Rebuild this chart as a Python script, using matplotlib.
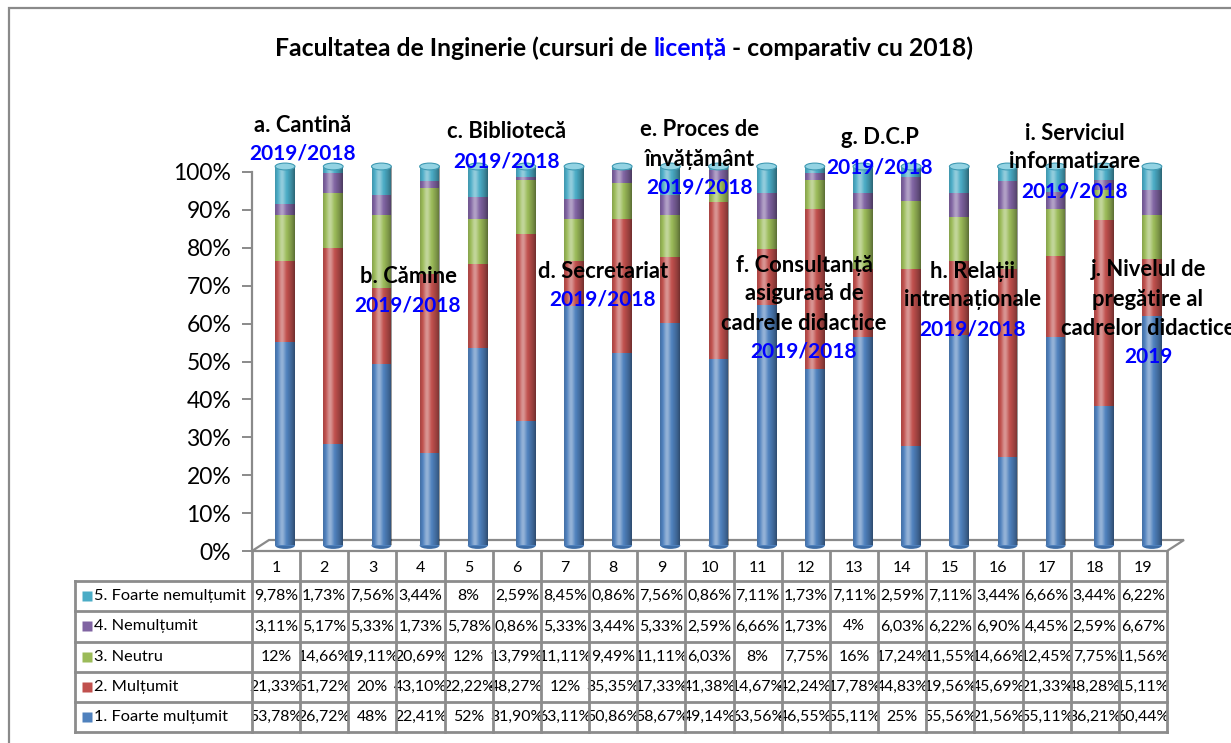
import matplotlib
matplotlib.use("Agg")
import matplotlib.pyplot as plt
import numpy as np
from matplotlib.transforms import offset_copy, IdentityTransform
from matplotlib.patches import Rectangle, Ellipse, Polygon

plt.rcParams['font.family'] = ['Lato', 'DejaVu Sans']

# ---------------- data ----------------
categories = [str(i) for i in range(1, 20)]
series_names = ["1. Foarte mulțumit", "2. Mulțumit", "3. Neutru",
                "4. Nemulțumit", "5. Foarte nemulțumit"]
foarte_multumit = [53.78, 26.72, 48, 22.41, 52, 31.90, 63.11, 50.86, 58.67, 49.14,
                   63.56, 46.55, 55.11, 25, 55.56, 21.56, 55.11, 36.21, 60.44]
multumit = [21.33, 51.72, 20, 43.10, 22.22, 48.27, 12, 35.35, 17.33, 41.38,
            14.67, 42.24, 17.78, 44.83, 19.56, 45.69, 21.33, 48.28, 15.11]
neutru = [12, 14.66, 19.11, 20.69, 12, 13.79, 11.11, 9.49, 11.11, 6.03,
          8, 7.75, 16, 17.24, 11.55, 14.66, 12.45, 7.75, 11.56]
nemultumit = [3.11, 5.17, 5.33, 1.73, 5.78, 0.86, 5.33, 3.44, 5.33, 2.59,
              6.66, 1.73, 4, 6.03, 6.22, 6.90, 4.45, 2.59, 6.67]
foarte_nemultumit = [9.78, 1.73, 7.56, 3.44, 8, 2.59, 8.45, 0.86, 7.56, 0.86,
                     7.11, 1.73, 7.11, 2.59, 7.11, 3.44, 6.66, 3.44, 6.22]
colors = ["#4F81BD", "#C0504D", "#9BBB59", "#8064A2", "#4BACC6"]
yticks = [0, 10, 20, 30, 40, 50, 60, 70, 80, 90, 100]

title_parts = [("Facultatea de Inginerie (cursuri de ", "black"),
               ("licență", "#0000FF"),
               (" - comparativ cu 2018)", "black")]

# annotation groups: (center_x_px, first_line_y_px, black lines, blue line)
annotations = [
    (303, 125, ["a. Cantină"], "2019/2018"),
    (408, 277, ["b. Cămine"], "2019/2018"),
    (507, 132, ["c. Bibliotecă"], "2019/2018"),
    (603, 271, ["d. Secretariat"], "2019/2018"),
    (700, 130, ["e. Proces de", "învățământ"], "2019/2018"),
    (804, 265, ["f. Consultanță", "asigurată de", "cadrele didactice"], "2019/2018"),
    (880, 138, ["g. D.C.P"], "2019/2018"),
    (973, 271, ["h. Relații", "intrenaționale"], "2019/2018"),
    (1075, 133, ["i. Serviciul", "informatizare"], "2019/2018"),
    (1148, 270, ["j. Nivelul de", "pregătire al", "cadrelor didactice"], "2019"),
]

# ---------------- figure ----------------
W, H = 1231, 743
fig = plt.figure(figsize=(W / 100, H / 100), dpi=100)
fig.patch.set_facecolor("white")

# outer frame
fig.add_artist(Rectangle((9, -20), 1400, H - 8 + 20, fill=False, ec="#8A8A8A",
                         lw=1.6, transform=IdentityTransform(), zorder=0))

ax = fig.add_axes([252 / W, 1 - 551 / H, 915 / W, 379 / H])
ax.set_xlim(0.5, 19.5)
ax.set_ylim(0, 100)

series = [foarte_multumit, multumit, neutru, nemultumit, foarte_nemultumit]
data = np.array(series, dtype=float)
data = data / data.sum(axis=0) * 100.0   # 100% stacked
x = np.arange(1, len(categories) + 1)
bw = 0.41

bar_tr = offset_copy(ax.transData, fig=fig, x=9, y=5.5, units="dots")

# floor (3D base)
fig.canvas.draw()
p0 = ax.transData.transform((0.5, 0))
p1 = ax.transData.transform((19.5, 0))
floor = Polygon([p0, p1, p1 + np.array([17, 11]), p0 + np.array([17, 11])],
                closed=True, fc="white", ec="#8A8A8A", lw=1.6,
                transform=IdentityTransform(), zorder=1)
fig.add_artist(floor)

# bottom caps of cylinders
cap_h = 1.8
for xi in x:
    ax.add_patch(Ellipse((xi, 0), bw, cap_h, fc="#3E6DA6", ec="none",
                         transform=bar_tr, zorder=2, clip_on=False))

bottom = np.zeros(len(x))
for vals, c in zip(data, colors):
    bars = ax.bar(x, vals, bottom=bottom, width=bw, color=c, transform=bar_tr,
                  zorder=3, linewidth=0)
    for b in bars:
        b.set_clip_on(False)
    bottom += vals

# cylinder shading overlay
u = np.linspace(0, 1, 80)
hl = 0.40 * np.exp(-((u - 0.35) / 0.17) ** 2)
dk = 0.42 * (np.abs(u - 0.38) / 0.62) ** 2.2
f = hl - dk
rgba = np.zeros((1, len(u), 4))
rgba[0, :, :3] = np.where(f > 0, 1.0, 0.0)[:, None]
rgba[0, :, 3] = np.abs(f)
for xi in x:
    im = ax.imshow(rgba, extent=[xi - bw / 2, xi + bw / 2, 0, 100], aspect="auto",
                   interpolation="bilinear", zorder=4)
    im.set_transform(bar_tr)
    im.set_clip_on(False)

# top caps
for xi in x:
    ax.add_patch(Ellipse((xi, 100), bw, cap_h, fc="#93D3E3", ec="#3F9AB3",
                         lw=0.8, transform=bar_tr, zorder=5, clip_on=False))

ax.set_xlim(0.5, 19.5)
ax.set_ylim(0, 100)
for s in ["top", "right", "bottom"]:
    ax.spines[s].set_visible(False)
ax.spines["left"].set_color("#8A8A8A")
ax.spines["left"].set_linewidth(1.6)
ax.set_yticks(yticks)
ax.set_yticklabels([f"{v}%" for v in yticks])
ax.tick_params(axis="y", length=7, width=1.4, color="#8A8A8A", labelsize=16.5,
               pad=8, labelcolor="black")
ax.set_xticks([])
ax.patch.set_alpha(0)
ax.set_zorder(2)

# ---------------- data table ----------------
tab = fig.add_axes([252 / W, 1 - 732 / H, 915 / W, 181 / H])
tab.set_xlim(0.5, 19.5)
tab.set_ylim(6, 0)
tab.axis("off")
unit_px = 915 / 19
xl = 0.5 - (252 - 75) / unit_px
gc = "#8C8C8C"
for r in range(1, 7):
    tab.plot([xl, 19.5], [r, r], color=gc, lw=2, clip_on=False, zorder=5,
             solid_capstyle="projecting")
for k in range(20):
    tab.plot([0.5 + k, 0.5 + k], [0, 6], color=gc, lw=2, clip_on=False, zorder=5)
tab.plot([xl, xl], [1, 6], color=gc, lw=2, clip_on=False, zorder=5)

for i, cat in enumerate(categories):
    tab.text(i + 1, 0.55, cat, ha="center", va="center", fontsize=11.5, clip_on=False)


def fmt(v):
    s = f"{v:.2f}"
    if s.endswith(".00"):
        s = s[:-3]
    return s.replace(".", ",") + "%"


for r, (name, vals, c) in enumerate(zip(series_names[::-1], series[::-1], colors[::-1])):
    yc = r + 1.5
    tab.plot([xl + (87 - 75) / unit_px], [yc], marker="s", ms=6.5, color=c,
             clip_on=False, mec="none")
    tab.text(xl + (94 - 75) / unit_px, yc, name, ha="left", va="center",
             fontsize=11.8, clip_on=False)
    for i, v in enumerate(vals):
        tab.text(i + 1, yc, fmt(v), ha="center", va="center", fontsize=11.4,
                 clip_on=False, zorder=3)

# ---------------- title (multi-colour) ----------------
fig.canvas.draw()
renderer = fig.canvas.get_renderer()
texts = []
for s, c in title_parts:
    t = fig.text(0, 1 - 48 / H, s, color=c, fontsize=17.8, fontweight="bold",
                 va="center", ha="left")
    texts.append(t)
widths = [t.get_window_extent(renderer).width for t in texts]
xs = 624 - sum(widths) / 2
for t, w in zip(texts, widths):
    t.set_x(xs / W)
    xs += w

# ---------------- annotations ----------------
lh = 29
for cx, cy, lines, blue in annotations:
    yy = cy
    for ln in lines:
        fig.text(cx / W, 1 - yy / H, ln, ha="center", va="center", fontsize=15.8,
                 fontweight="bold", color="black", zorder=10)
        yy += lh
    fig.text(cx / W, 1 - yy / H, blue, ha="center", va="center", fontsize=15,
             fontweight="bold", color="#0000FF", zorder=10)

fig.savefig("out.png", dpi=100)
